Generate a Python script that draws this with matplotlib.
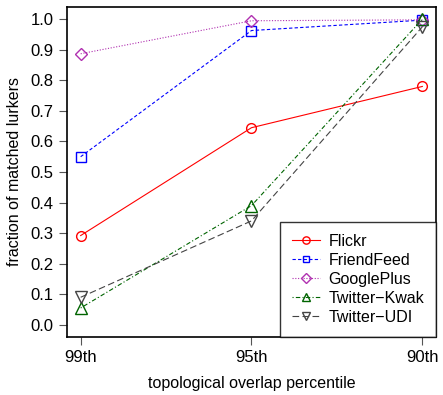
import numpy as np
import matplotlib.pyplot as plt

plt.rcParams['font.family'] = ['Liberation Sans', 'DejaVu Sans']

percentiles = ['99th', '95th', '90th']
flickr = [0.292, 0.645, 0.780]
friendfeed = [0.550, 0.963, 0.997]
googleplus = [0.887, 0.995, 0.998]
twitter_kwak = [0.055, 0.390, 1.000]
twitter_udi = [0.090, 0.340, 0.975]

series = [
    ('Flickr', flickr, 'red', '-', 'o', 7),
    ('FriendFeed', friendfeed, 'blue', (0, (3, 2)), 's', 6.5),
    ('GooglePlus', googleplus, '#b030b0', (0, (1, 1.5)), 'D', 6.5),
    ('Twitter\u2212Kwak', twitter_kwak, 'darkgreen', (0, (1, 2, 4, 2)), '^', 8),
    ('Twitter\u2212UDI', twitter_udi, '#444444', (0, (6, 3)), 'v', 8),
]

fig = plt.figure(figsize=(4.43, 3.95), dpi=100)
ax = fig.add_axes([67 / 443, 58 / 395, 369 / 443, 330 / 395])

x = np.arange(1, len(percentiles) + 1)
for name, vals, col, ls, mk, ms in series:
    ax.plot(x, vals, color=col, linestyle=ls, linewidth=0.8, marker=mk,
            markersize=ms, markerfacecolor='none', markeredgecolor=col,
            markeredgewidth=1.0, label=name)

ax.set_xlim(0.92, 3.08)
ax.set_ylim(-0.04, 1.04)
ax.set_xticks(x)
ax.set_xticklabels(percentiles)
ax.set_yticks(np.arange(0, 1.01, 0.1))
ax.set_yticklabels(['%.1f' % v for v in np.arange(0, 1.01, 0.1)])
ax.tick_params(labelsize=12, length=6, width=0.8, color='#555555')
ax.set_xlabel('topological overlap percentile', fontsize=11.5, labelpad=8)
ax.set_ylabel('fraction of matched lurkers', fontsize=11.5, labelpad=6)
for s in ax.spines.values():
    s.set_linewidth(1.2)

leg = ax.legend(loc='lower right', borderaxespad=0, fancybox=False,
                edgecolor='black', fontsize=11.5, handlelength=1.8,
                handletextpad=0.5, markerscale=0.75,
                borderpad=0.75, labelspacing=0.25)
leg.get_frame().set_linewidth(1.0)

fig.text(0.45, 1.0, '(a)', fontsize=13, ha='center', va='bottom')

fig.savefig('out.png', dpi=100)
